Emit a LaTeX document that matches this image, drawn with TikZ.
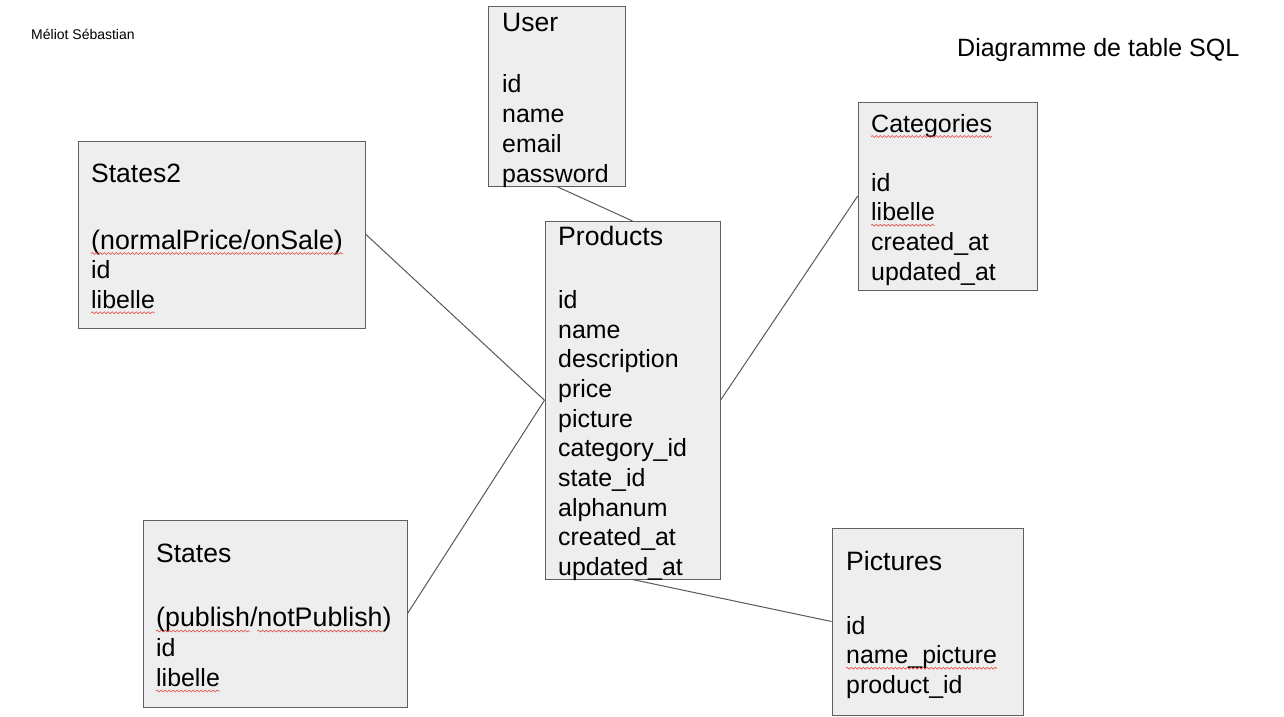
\documentclass[tikz,border=0pt]{standalone}
\usepackage{fontspec}
\setmainfont{Liberation Sans}
\usetikzlibrary{decorations.pathmorphing}
\definecolor{boxfill}{HTML}{EEEEEE}
\definecolor{boxline}{HTML}{5F5F5F}
\definecolor{lnk}{HTML}{595959}
\definecolor{sqred}{HTML}{E0443E}
\newcommand\fs[1]{\fontsize{#1}{29.7}\selectfont}
\newcommand\fld[2]{\fontsize{24.9}{#1}\selectfont\begin{tabular}[t]{@{}l@{}}#2\end{tabular}}
\newlength\wNP \newlength\wLib \newlength\wCat \newlength\wPub
\newlength\wPubPre \newlength\wNotP \newlength\wNamePic
\begin{document}
\settowidth{\wNP}{\fs{26.8}(normalPrice/onSale)}%
\settowidth{\wLib}{\fs{24.9}libelle}%
\settowidth{\wCat}{\fs{25}Categories}%
\settowidth{\wPub}{\fs{26.8}(publish}%
\settowidth{\wPubPre}{\fs{26.8}(publish/}%
\settowidth{\wNotP}{\fs{26.8}notPublish}%
\settowidth{\wNamePic}{\fs{24.9}name\_picture}%
\begin{tikzpicture}[x=1pt,y=-1pt,
  tbl/.style={draw=boxline, fill=boxfill, line width=1pt, inner sep=0pt, rectangle},
  ttl/.style={anchor=base west, inner sep=0pt},
  fields/.style={anchor=base west, inner sep=0pt},
  link/.style={draw=lnk, line width=1pt},
  sqline/.style={draw=sqred, line width=0.6pt, decorate, decoration={snake, amplitude=0.9pt, segment length=4pt}}]
\useasboundingbox (0,0) rectangle (1284,716);
\fill[white] (0,0) rectangle (1284,716);

% boxes
\node[tbl, minimum width=137.5pt, minimum height=180pt] (user) at (556.75,96) {};
\node[tbl, minimum width=175pt, minimum height=357.5pt] (prod) at (632.5,400.25) {};
\node[tbl, minimum width=287.5pt, minimum height=187pt] (states2) at (221.75,234.5) {};
\node[tbl, minimum width=179.5pt, minimum height=187.5pt] (cat) at (947.75,196.25) {};
\node[tbl, minimum width=264pt, minimum height=187pt] (states) at (275,613.5) {};
\node[tbl, minimum width=191pt, minimum height=187pt] (pics) at (927.5,621.5) {};

% connectors
\draw[link] (user.south) -- (prod.north);
\draw[link] (states2.east) -- (prod.west);
\draw[link] (states.east) -- (prod.west);
\draw[link] (cat.west) -- (prod.east);
\draw[link] (prod.south) -- (pics.west);

% texts
\node[anchor=base west, inner sep=0pt, font=\fontsize{14}{16}\selectfont] (author) at (31,39) {Méliot Sébastian};
\node[anchor=base west, inner sep=0pt, font=\fontsize{25}{30}\selectfont] (title) at (957,56) {Diagramme de table SQL};

\node[ttl, font=\fs{26.5}] (userT) at (502,31) {User};
\node[fields] (userF) at (502,92.7) {\fld{29.8}{id\\name\\email\\password}};

\node[ttl, font=\fs{26.6}] (prodT) at (558,245.7) {Products};
\node[fields] (prodF) at (558,308.3) {\fld{29.7}{id\\name\\description\\price\\picture\\category\_id\\state\_id\\alphanum\\created\_at\\updated\_at}};

\node[ttl, font=\fs{26.5}] (states2T) at (91,182) {States2};
\node[fields] (states2F) at (91,249) {\fld{29.6}{\fs{26.8}(normalPrice/onSale)\\id\\libelle}};

\node[ttl, font=\fs{25}] (catT) at (871,132) {Categories};
\node[fields] (catF) at (871,191) {\fld{29.7}{id\\libelle\\created\_at\\updated\_at}};

\node[ttl, font=\fs{26.5}] (statesT) at (156,562) {States};
\node[fields] (statesF) at (156,626.5) {\fld{30}{\fs{26.8}(publish/notPublish)\\id\\libelle}};

\node[ttl, font=\fs{26.6}] (picsT) at (846,570) {Pictures};
\node[fields] (picsF) at (846,634) {\fld{29.7}{id\\name\_picture\\product\_id}};

% spell-check squiggles
\draw[sqline] ([yshift=-4.5pt]states2F.base west) -- ++(\wNP,0pt);
\draw[sqline] ([yshift=-63.7pt]states2F.base west) -- ++(\wLib,0pt);
\draw[sqline] ([yshift=-34.2pt]catF.base west) -- ++(\wLib,0pt);
\draw[sqline] ([yshift=-64.5pt]statesF.base west) -- ++(\wLib,0pt);
\draw[sqline] ([yshift=-4.5pt]catT.base west) -- ++(\wCat,0pt);
\draw[sqline] ([yshift=-4.5pt]statesF.base west) -- ++(\wPub,0pt);
\draw[sqline] ([xshift=\wPubPre,yshift=-4.5pt]statesF.base west) -- ++(\wNotP,0pt);
\draw[sqline] ([yshift=-34.2pt]picsF.base west) -- ++(\wNamePic,0pt);
\end{tikzpicture}
\end{document}
